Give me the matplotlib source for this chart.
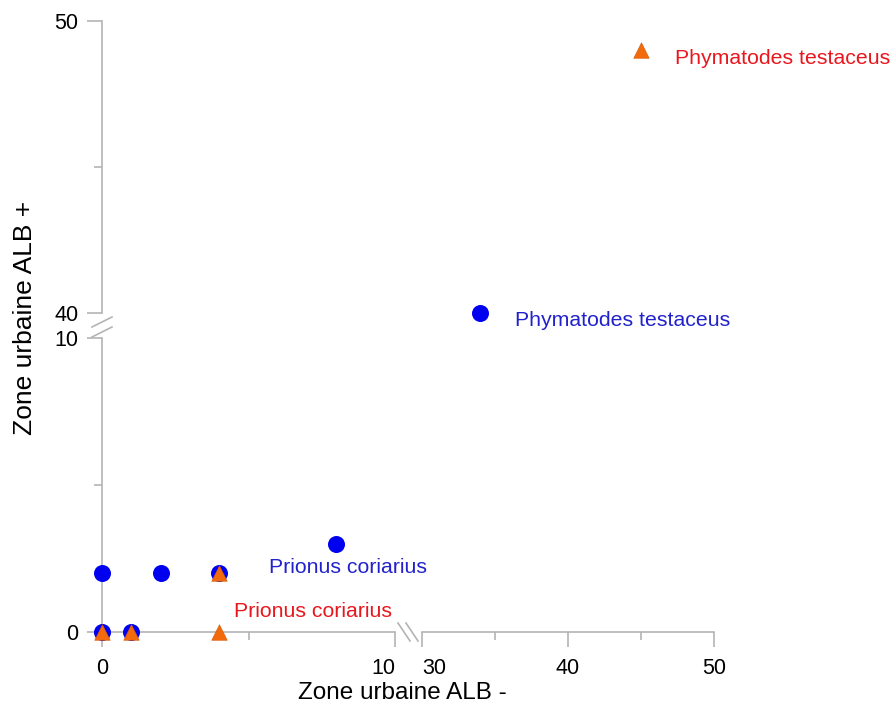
import matplotlib
matplotlib.use("Agg")
import matplotlib.pyplot as plt
from matplotlib.lines import Line2D

plt.rcParams['font.family'] = ['Liberation Sans', 'DejaVu Sans']

# ---- data ----
blue_x = [0, 1, 0, 2, 4, 8, 34]
blue_y = [0, 0, 2, 2, 2, 3, 40]
orange_x = [0, 1, 4, 4, 45]
orange_y = [0, 0, 2, 0, 49]

label_text = ["Prionus coriarius", "Prionus coriarius",
              "Phymatodes testaceus", "Phymatodes testaceus"]
label_x = [5.7, 4.5, 36.4, 47.3]
label_y = [2.2, 0.7, 39.75, 48.7]
label_series = ["blue", "orange", "blue", "orange"]

x_low, x_high = (0, 10), (30, 50)
y_low, y_high = (0, 10), (40, 50)
x_label = "Zone urbaine ALB -"
y_label = "Zone urbaine ALB +"

BLUE = "#0000F0"
ORANGE = "#F26A0C"
BLUE_TXT = "#2222CC"
RED_TXT = "#E8171E"
SPINE = "#B4B4B4"

W, H = 891, 707
fig = plt.figure(figsize=(W / 100, H / 100), dpi=100)

def fx(px):
    return px / W

def fy(py):
    return 1 - py / H

xl0, xl1 = 102, 395
xh0, xh1 = 422, 714
yl0, yl1 = 632, 338
yh0, yh1 = 313, 21

def make_ax(xa, xb, ya, yb):
    return fig.add_axes([fx(xa), fy(ya), fx(xb) - fx(xa), fy(yb) - fy(ya)])

ax_ll = make_ax(xl0, xl1, yl0, yl1)
ax_ul = make_ax(xl0, xl1, yh0, yh1)
ax_lr = make_ax(xh0, xh1, yl0, yl1)
ax_ur = make_ax(xh0, xh1, yh0, yh1)

axes = {(0, 0): ax_ll, (0, 1): ax_ul, (1, 0): ax_lr, (1, 1): ax_ur}
for (i, j), ax in axes.items():
    ax.set_xlim(*(x_low if i == 0 else x_high))
    ax.set_ylim(*(y_low if j == 0 else y_high))
    ax.patch.set_alpha(0)
    for s in ax.spines.values():
        s.set_visible(False)
        s.set_color(SPINE)
        s.set_linewidth(1.2)
    ax.tick_params(which='major', length=11, width=1.2, color=SPINE,
                   labelsize=15.5, pad=6)
    ax.tick_params(which='minor', length=6, width=1.2, color=SPINE)
    ax.tick_params(axis='x', which='major', pad=8)
    ax.set_xticks([])
    ax.set_yticks([])

# left spines
for ax, lo in [(ax_ll, 0), (ax_ul, 40)]:
    ax.spines['left'].set_visible(True)
    ax.set_yticks([lo, lo + 10])
    ax.set_yticks([lo + 5], minor=True)
# bottom spines
ax_ll.spines['bottom'].set_visible(True)
ax_ll.set_xticks([0, 10])
ax_ll.set_xticks([5], minor=True)
ax_lr.spines['bottom'].set_visible(True)
ax_lr.set_xticks([30, 40, 50])
ax_lr.set_xticks([35, 45], minor=True)
# labels next to the break sit beside their ticks
ax_ll.get_xticklabels()[-1].set_horizontalalignment('right')
ax_lr.get_xticklabels()[0].set_horizontalalignment('left')

def which_ax(x, y):
    return axes[(0 if x <= 10 else 1, 0 if y <= 10 else 1)]

for x, y in zip(blue_x, blue_y):
    which_ax(x, y).scatter([x], [y], s=150, color=BLUE, marker='o',
                           zorder=5, clip_on=False, linewidths=0)
for x, y in zip(orange_x, orange_y):
    which_ax(x, y).scatter([x], [y], s=125, color=ORANGE, marker='^',
                           zorder=6, clip_on=False, linewidths=0.4,
                           edgecolors="#D05A08")

for t, x, y, ser in zip(label_text, label_x, label_y, label_series):
    ax = which_ax(x if x < 20 else 40, y if y < 20 else 45)
    ax.text(x, y, t, color=BLUE_TXT if ser == "blue" else RED_TXT,
            fontsize=15.3, ha='left', va='center', zorder=7)

# axis labels
fig.text(fx(402), fy(693), x_label, fontsize=17.5, ha='center', va='center')
fig.text(fx(25), fy(318), y_label, fontsize=19, ha='center', va='center',
         rotation=90)

# break marks
for dx in (0, 8):
    fig.add_artist(Line2D([fx(398 + dx), fx(410 + dx)], [fy(623), fy(641)],
                          color=SPINE, lw=1.2))
for dy in (0, 10):
    fig.add_artist(Line2D([fx(92), fx(112)], [fy(327 + dy), fy(317 + dy)],
                          color=SPINE, lw=1.2))

fig.savefig("out.png", dpi=100)
